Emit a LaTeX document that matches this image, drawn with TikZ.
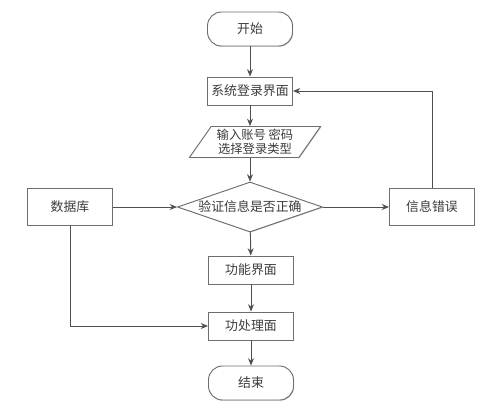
\documentclass[tikz,border=0pt]{standalone}
\usepackage{fontspec}
\setmainfont{Noto Sans CJK SC}
\usepackage{xcolor}
\definecolor{linegray}{RGB}{80,80,80}
\definecolor{boxgray}{RGB}{110,110,110}
\definecolor{textgray}{RGB}{60,60,60}
\usepackage{tikz}
\usetikzlibrary{arrows.meta,positioning,shapes.geometric,shadows}
\tikzset{
  proc/.style={draw=boxgray,fill=white,line width=0.8pt,minimum width=2.55cm,%
    minimum height=0.84cm,inner sep=2pt,align=center,text=textgray,%
    drop shadow={shadow xshift=0.6pt,shadow yshift=-0.6pt,fill=gray!45,opacity=1}},
  term/.style={proc,rounded corners=0.42cm,minimum height=1.02cm},
  io/.style={draw=boxgray,fill=white,line width=0.8pt,trapezium,%
    trapezium left angle=55,trapezium right angle=125,minimum width=2.75cm,%
    minimum height=0.93cm,inner sep=1pt,align=center,text=textgray,%
    font=\fontsize{10.5}{12}\selectfont,%
    drop shadow={shadow xshift=0.6pt,shadow yshift=-0.6pt,fill=gray!45,opacity=1}},
  check/.style={draw=boxgray,fill=white,line width=0.8pt,diamond,aspect=2.9,%
    minimum width=4.35cm,minimum height=1.5cm,inner sep=0pt,text=textgray,%
    drop shadow={shadow xshift=0.6pt,shadow yshift=-0.6pt,fill=gray!45,opacity=1}},
  flow/.style={-{Stealth[length=2.2mm,width=1.8mm]},line width=0.8pt,draw=linegray},
}

\begin{document}
\begin{tikzpicture}[x=0.03cm,y=-0.03cm,every node/.style={font=\fontsize{11}{13}\selectfont}]
\useasboundingbox (0,0) rectangle (499,407);
% main column
\node[term] (start) at (250,29) {开始};
\node[proc] (login) at (250,91) {系统登录界面};
\node[io] (input) at (255,142) {输入账号 密码\\选择登录类型};
\node[check] (verify) at (250,207) {验证信息是否正确};
\node[proc] (func) at (251,270) {功能界面};
\node[proc] (work) at (251,326) {功处理面};
\node[term] (stop) at (251,383) {结束};
% side boxes
\node[proc,minimum height=1.11cm] (db) at (70,207) {数据库};
\node[proc,minimum height=1.11cm] (err) at (432,207) {信息错误};
\coordinate (dbturn) at (db.south |- work.west);
\coordinate (errturn) at (err.north |- login.east);

\draw[flow] (start) -- (login);
\draw[flow] (login) -- (login.south |- input.north);
\draw[flow] (login.south |- input.south) -- (verify.north);
\draw[flow] (verify) -- (func);
\draw[flow] (func) -- (work);
\draw[flow] (work) -- (stop);
\draw[flow] (db) -- (verify.west);
\draw[flow] (verify.east) -- (err);
\draw[flow] (db.south) -- (dbturn) -- (work.west);
\draw[flow] (err.north) -- (errturn) -- (login.east);
\end{tikzpicture}
\end{document}
